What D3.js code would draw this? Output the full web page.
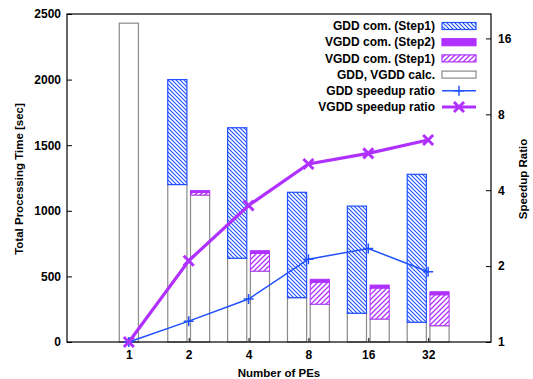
<!DOCTYPE html>
<html>
<head>
<meta charset="utf-8">
<script src="https://cdn.jsdelivr.net/npm/d3@7/dist/d3.min.js"></script>
<style>
  body { margin: 0; background: #fff; }
  text { font-family: "Liberation Sans", Arial, sans-serif; font-size: 12px; font-weight: bold; fill: #000; }
  .title { font-size: 11.5px; }
</style>
</head>
<body>
<div id="chart"></div>
<script>
// data
var peLabels = ["1", "2", "4", "8", "16", "32"];
var gddCalc = [2430, 1200, 638, 338, 219, 150];
var gddCom1 = [0, 800, 995, 803, 817, 1128];
var vgddCalc = [null, 1120, 540, 288, 175, 124];
var vgddCom1 = [null, 20, 135, 168, 236, 236];
var vgddCom2 = [null, 14, 21, 22, 23, 23];
var gddSpeedup = [1, 1.21, 1.48, 2.13, 2.35, 1.90];
var vgddSpeedup = [1, 2.10, 3.48, 5.08, 5.60, 6.33];
var leftTicks = [0, 500, 1000, 1500, 2000, 2500];
var rightTicks = [1, 2, 4, 8, 16];

var attrs = {
  width: 533,
  height: 379,
  left: 67, right: 491, top: 14, bottom: 342,
  blue: "#2050ff",
  magenta: "#b030ff",
  gray: "#8a8a8a"
};

var svg = d3.select("#chart").append("svg")
  .attr("width", attrs.width)
  .attr("height", attrs.height);

var defs = svg.append("defs");

// hatch patterns
var pb = defs.append("pattern")
  .attr("id", "hatchBlue")
  .attr("patternUnits", "userSpaceOnUse")
  .attr("width", 4).attr("height", 4);
pb.append("rect").attr("width", 4).attr("height", 4).attr("fill", "#fff");
pb.append("path")
  .attr("d", "M-1,-1 L5,5 M-1,3 L1,5 M3,-1 L5,1")
  .attr("stroke", attrs.blue).attr("stroke-width", 1.1);

var pm = defs.append("pattern")
  .attr("id", "hatchMag")
  .attr("patternUnits", "userSpaceOnUse")
  .attr("width", 5).attr("height", 5);
pm.append("rect").attr("width", 5).attr("height", 5).attr("fill", "#fff");
pm.append("path")
  .attr("d", "M-1,6 L6,-1 M-1,1 L1,-1 M4,6 L6,4")
  .attr("stroke", attrs.magenta).attr("stroke-width", 1.3);

var x = d3.scaleLinear().domain([0, 7]).range([69, 488]);
var y = d3.scaleLinear().domain([0, 2500]).range([attrs.bottom, attrs.top]);
var y2 = d3.scaleLog().base(2).domain([1, 20]).range([attrs.bottom, attrs.top]);

var barW = 0.32;
var off = 0.19;

var chart = svg.append("g");

// GDD bars (and the single bar at PE=1)
peLabels.forEach(function (p, i) {
  var cx = i === 0 ? x(i + 1) : x(i + 1 - off);
  var w = x(barW) - x(0);
  var x0 = cx - w / 2;

  chart.append("rect")
    .attr("x", x0).attr("y", y(gddCalc[i]))
    .attr("width", w).attr("height", y(0) - y(gddCalc[i]))
    .attr("fill", "#fff").attr("stroke", attrs.gray).attr("stroke-width", 1.2);

  if (gddCom1[i] > 0) {
    chart.append("rect")
      .attr("x", x0).attr("y", y(gddCalc[i] + gddCom1[i]))
      .attr("width", w).attr("height", y(gddCalc[i]) - y(gddCalc[i] + gddCom1[i]))
      .attr("fill", "url(#hatchBlue)").attr("stroke", attrs.blue).attr("stroke-width", 1.2);
  }

  if (vgddCalc[i] != null) {
    var vx = x(i + 1 + off) - w / 2;
    var base1 = vgddCalc[i];
    var base2 = base1 + vgddCom1[i];
    var top = base2 + vgddCom2[i];

    chart.append("rect")
      .attr("x", vx).attr("y", y(base1))
      .attr("width", w).attr("height", y(0) - y(base1))
      .attr("fill", "#fff").attr("stroke", attrs.gray).attr("stroke-width", 1.2);

    chart.append("rect")
      .attr("x", vx).attr("y", y(base2))
      .attr("width", w).attr("height", y(base1) - y(base2))
      .attr("fill", "url(#hatchMag)").attr("stroke", attrs.magenta).attr("stroke-width", 1);

    chart.append("rect")
      .attr("x", vx).attr("y", y(top))
      .attr("width", w).attr("height", y(base2) - y(top))
      .attr("fill", attrs.magenta).attr("stroke", attrs.magenta).attr("stroke-width", 1);
  }
});

// frame
svg.append("rect")
  .attr("x", attrs.left).attr("y", attrs.top)
  .attr("width", attrs.right - attrs.left).attr("height", attrs.bottom - attrs.top)
  .attr("fill", "none").attr("stroke", "#000").attr("stroke-width", 1.2);

// left axis
var yAxis = d3.axisLeft(y).tickValues(leftTicks).tickFormat(d3.format("d"))
  .tickSizeInner(-5).tickSizeOuter(0).tickPadding(6);
var ga = svg.append("g").attr("transform", "translate(" + attrs.left + ",0)").call(yAxis);
ga.select(".domain").remove();

// right axis
var y2Axis = d3.axisRight(y2).tickValues(rightTicks).tickFormat(d3.format("d"))
  .tickSizeInner(-5).tickSizeOuter(0).tickPadding(7);
var gb = svg.append("g").attr("transform", "translate(" + attrs.right + ",0)").call(y2Axis);
gb.select(".domain").remove();

// bottom axis
var xAxis = d3.axisBottom(x).tickValues([1, 2, 3, 4, 5, 6])
  .tickFormat(function (d) { return peLabels[d - 1]; })
  .tickSizeInner(-4).tickSizeOuter(0).tickPadding(8);
var gc = svg.append("g").attr("transform", "translate(0," + attrs.bottom + ")").call(xAxis);
gc.select(".domain").remove();
svg.selectAll(".tick line").attr("stroke", "#000");
svg.selectAll(".tick text").style("font-family", null).style("font-size", null).attr("font-family", null).attr("font-size", null);

// speedup lines
var pts = d3.range(peLabels.length);

var gddLine = d3.line().x(function (i) { return x(i + 1); }).y(function (i) { return y2(gddSpeedup[i]); });
var vgddLine = d3.line().x(function (i) { return x(i + 1); }).y(function (i) { return y2(vgddSpeedup[i]); });

svg.append("path").datum(pts).attr("d", gddLine)
  .attr("fill", "none").attr("stroke", attrs.blue).attr("stroke-width", 1.5);
svg.append("path").datum(pts).attr("d", vgddLine)
  .attr("fill", "none").attr("stroke", attrs.magenta).attr("stroke-width", 3.2);

function plusMark(g, cx, cy, s, col, sw) {
  g.append("path")
    .attr("d", "M" + (cx - s) + "," + cy + "H" + (cx + s) + "M" + cx + "," + (cy - s) + "V" + (cy + s))
    .attr("stroke", col).attr("stroke-width", sw).attr("fill", "none");
}
function crossMark(g, cx, cy, s, col, sw) {
  g.append("path")
    .attr("d", "M" + (cx - s) + "," + (cy - s) + "L" + (cx + s) + "," + (cy + s) + "M" + (cx - s) + "," + (cy + s) + "L" + (cx + s) + "," + (cy - s))
    .attr("stroke", col).attr("stroke-width", sw).attr("fill", "none");
}

var marks = svg.append("g");
pts.forEach(function (i) {
  plusMark(marks, x(i + 1), y2(gddSpeedup[i]), 5, attrs.blue, 1.5);
  crossMark(marks, x(i + 1), y2(vgddSpeedup[i]), 5, attrs.magenta, 3);
});

// axis titles
svg.append("text").classed("title", true)
  .attr("transform", "translate(23,179) rotate(-90)")
  .attr("text-anchor", "middle")
  .text("Total Processing Time [sec]");

svg.append("text").classed("title", true)
  .attr("transform", "translate(527,179) rotate(-90)")
  .attr("text-anchor", "middle")
  .text("Speedup Ratio");

svg.append("text").classed("title", true)
  .attr("x", 279).attr("y", 377)
  .attr("text-anchor", "middle")
  .text("Number of PEs");

// legend
var legendItems = [
  { label: "GDD com. (Step1)", kind: "rect", fill: "url(#hatchBlue)", stroke: attrs.blue },
  { label: "VGDD com. (Step2)", kind: "rect", fill: attrs.magenta, stroke: attrs.magenta },
  { label: "VGDD com. (Step1)", kind: "rect", fill: "url(#hatchMag)", stroke: attrs.magenta },
  { label: "GDD, VGDD calc.", kind: "rect", fill: "#fff", stroke: attrs.gray },
  { label: "GDD speedup ratio", kind: "plus", stroke: attrs.blue },
  { label: "VGDD speedup ratio", kind: "cross", stroke: attrs.magenta }
];

var lg = svg.append("g");
legendItems.forEach(function (d, i) {
  var ly = 26 + i * 16.2;
  lg.append("text")
    .attr("x", 435).attr("y", ly).attr("dy", "0.35em")
    .attr("text-anchor", "end")
    .text(d.label);
  if (d.kind === "rect") {
    lg.append("rect")
      .attr("x", 442).attr("y", ly - 3.5).attr("width", 34).attr("height", 7)
      .attr("fill", d.fill).attr("stroke", d.stroke).attr("stroke-width", 1.2);
  } else if (d.kind === "plus") {
    lg.append("line").attr("x1", 442).attr("x2", 476).attr("y1", ly).attr("y2", ly)
      .attr("stroke", d.stroke).attr("stroke-width", 1.5);
    plusMark(lg, 459, ly, 5, d.stroke, 1.5);
  } else {
    lg.append("line").attr("x1", 442).attr("x2", 476).attr("y1", ly).attr("y2", ly)
      .attr("stroke", d.stroke).attr("stroke-width", 3.2);
    crossMark(lg, 459, ly, 5, d.stroke, 3);
  }
});
</script>
</body>
</html>
